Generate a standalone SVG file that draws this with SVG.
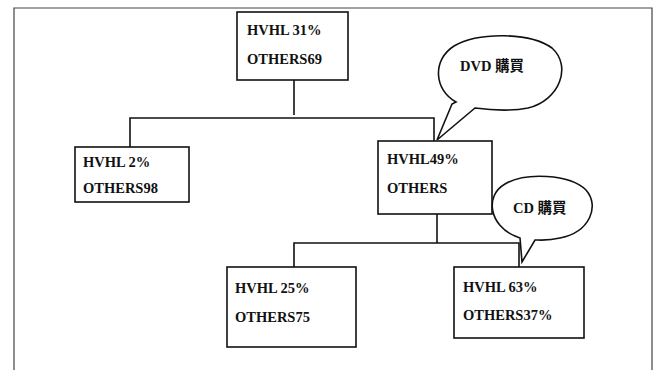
<svg xmlns="http://www.w3.org/2000/svg" width="656" height="370" viewBox="0 0 656 370">
<style>
.frame{fill:none;stroke:#444;stroke-width:1.2}
.box{fill:#fff;stroke:#111;stroke-width:1.6}
.conn{fill:none;stroke:#111;stroke-width:1.6}
.bub{fill:#fff;stroke:#111;stroke-width:1.6}
.t{font-family:"Liberation Serif","Noto Sans CJK TC",serif;font-size:14.5px;font-weight:bold;fill:#111}
</style>
<rect width="656" height="370" fill="#fff"/>
<path class="frame" d="M14,370 V8 H652 V370"/>
<g id="connectors">
<path class="conn" d="M294,80 V115"/>
<path class="conn" d="M130,147 V118 H434 V141"/>
<path class="conn" d="M437,214 V243"/>
<path class="conn" d="M294,267 V243 H519 V267"/>
</g>
<g id="node-top">
<rect class="box" x="237" y="12" width="111" height="68"/>
<text class="t" x="247" y="35">HVHL 31%</text>
<text class="t" x="247" y="64">OTHERS69</text>
</g>
<g id="node-left">
<rect class="box" x="75" y="147" width="114" height="55"/>
<text class="t" x="83" y="167">HVHL 2%</text>
<text class="t" x="83" y="193">OTHERS98</text>
</g>
<g id="node-mid">
<rect class="box" x="378" y="141" width="114" height="73"/>
<text class="t" x="387" y="164">HVHL49%</text>
<text class="t" x="387" y="193">OTHERS</text>
</g>
<g id="node-bl">
<rect class="box" x="227" y="267" width="129" height="80"/>
<text class="t" x="235" y="293">HVHL 25%</text>
<text class="t" x="235" y="322">OTHERS75</text>
</g>
<g id="node-br">
<rect class="box" x="454" y="267" width="130" height="71"/>
<text class="t" x="463" y="292">HVHL 63%</text>
<text class="t" x="463" y="320">OTHERS37%</text>
</g>
<g id="bubble-dvd">
<path class="bub" d="M456,102 C434,90 432,60 454,46 C478,32 530,32 552,48 C572,66 560,100 528,108 C508,112 490,110 475,108 L437,140 L452,104 Z"/>
<text class="t" x="460" y="71">DVD 購買</text>
</g>
<g id="bubble-cd">
<path class="bub" d="M515,236 C490,226 484,196 505,184 C525,172 570,174 586,190 C600,206 590,232 560,238 C548,241 540,240 535,240 L522,262 L520,238 Z"/>
<text class="t" x="513" y="213">CD 購買</text>
</g>
</svg>
